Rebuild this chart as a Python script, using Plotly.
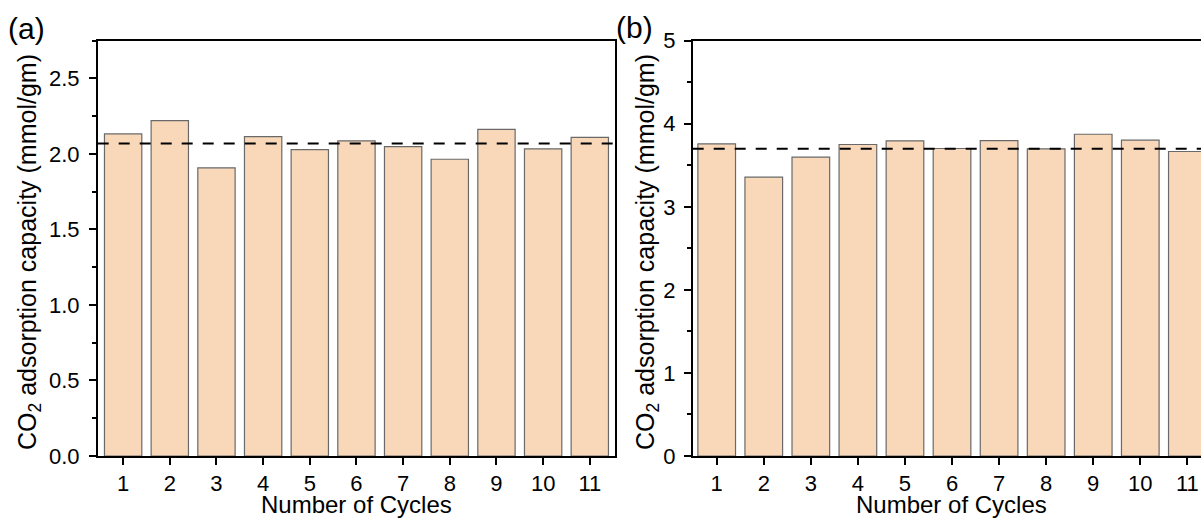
import plotly.graph_objects as go

# ---- data ----
cycles = [1, 2, 3, 4, 5, 6, 7, 8, 9, 10, 11]
cycle_labels = ["1", "2", "3", "4", "5", "6", "7", "8", "9", "10", "11"]
capacity_a = [2.133, 2.221, 1.908, 2.115, 2.029, 2.087, 2.049, 1.965, 2.163, 2.034, 2.110]
capacity_b = [3.758, 3.357, 3.598, 3.750, 3.794, 3.702, 3.798, 3.698, 3.874, 3.802, 3.666]
average_a = 2.07
average_b = 3.70
yticks_a = [0.0, 0.5, 1.0, 1.5, 2.0, 2.5]
yticklabels_a = ["0.0", "0.5", "1.0", "1.5", "2.0", "2.5"]
yticks_b = [0, 1, 2, 3, 4, 5]
yticklabels_b = ["0", "1", "2", "3", "4", "5"]

# ---- styling ----
W, H = 1201, 519
FONT = "Liberation Sans, Arial, Helvetica, sans-serif"
BAR_FILL = "#F9D8BA"
BAR_LINE = "rgb(105,105,105)"
TICK_SIZE = 22
TITLE_SIZE = 24


def px_x(p):
    return p / W


def px_y(p):
    return 1 - p / H


fig = go.Figure()

fig.add_trace(go.Bar(
    x=cycles, y=capacity_a, width=0.8,
    marker=dict(color=BAR_FILL, line=dict(color=BAR_LINE, width=1.2)),
    xaxis="x", yaxis="y", showlegend=False,
))
fig.add_trace(go.Bar(
    x=cycles, y=capacity_b, width=0.8,
    marker=dict(color=BAR_FILL, line=dict(color=BAR_LINE, width=1.2)),
    xaxis="x2", yaxis="y2", showlegend=False,
))

y_dom = [px_y(456), px_y(40.7)]

common_axis = dict(
    showline=True, linecolor="black", linewidth=1.5,
    ticks="outside", ticklen=7, tickwidth=1.5, tickcolor="black",
    showgrid=False, zeroline=False, automargin=False,
    tickfont=dict(family=FONT, size=TICK_SIZE, color="black"),
)

fig.update_layout(
    template="none",
    width=W, height=H,
    margin=dict(l=0, r=0, t=0, b=0, pad=0),
    paper_bgcolor="white", plot_bgcolor="white",
    font=dict(family=FONT, color="black"),
    bargap=0.2,
    xaxis=dict(
        common_axis, domain=[px_x(97.7), px_x(615)], range=[0.455, 11.54],
        tickvals=cycles, ticktext=cycle_labels, mirror=True, anchor="y",
        ticklabelstandoff=0,
    ),
    yaxis=dict(
        common_axis, domain=y_dom, range=[0, 2.75],
        tickvals=yticks_a, ticktext=yticklabels_a, mirror=True, anchor="x",
        minor=dict(ticks="outside", ticklen=4, tickwidth=1.5, tickcolor="black", dtick=0.25),
        ticklabelstandoff=5,
    ),
    xaxis2=dict(
        common_axis, domain=[px_x(692.7), 1.0], range=[0.49, 11.29],
        tickvals=cycles, ticktext=cycle_labels, mirror=True, anchor="y2",
        ticklabelstandoff=0,
    ),
    yaxis2=dict(
        common_axis, domain=y_dom, range=[0, 5],
        tickvals=yticks_b, ticktext=yticklabels_b, mirror=False, anchor="x2",
        minor=dict(ticks="outside", ticklen=4, tickwidth=1.5, tickcolor="black", dtick=0.5),
        ticklabelstandoff=4,
    ),
)

# dashed average lines
fig.add_shape(type="line", xref="x domain", yref="y", x0=0, x1=1.0,
              y0=average_a, y1=average_a,
              line=dict(color="black", width=2, dash="11px,10px"))
fig.add_shape(type="line", xref="x2 domain", yref="y2", x0=0, x1=1,
              y0=average_b, y1=average_b,
              line=dict(color="black", width=2, dash="11px,10px"))

ytitle = "CO<sub>2</sub> adsorption capacity (mmol/gm)"
annots = [
    dict(text="(a)", x=px_x(26), y=px_y(29), xanchor="center", yanchor="middle",
         font=dict(size=30)),
    dict(text="(b)", x=px_x(634), y=px_y(27.5), xanchor="center", yanchor="middle",
         font=dict(size=30)),
    dict(text=ytitle, textangle=-90, x=px_x(29), y=px_y(252), xanchor="center",
         yanchor="middle", font=dict(size=25)),
    dict(text=ytitle, textangle=-90, x=px_x(647), y=px_y(252), xanchor="center",
         yanchor="middle", font=dict(size=25)),
    dict(text="Number of Cycles", x=px_x(356.5), y=0, xanchor="center", yanchor="bottom",
         borderpad=0, font=dict(size=TITLE_SIZE)),
    dict(text="Number of Cycles", x=px_x(951), y=0, xanchor="center", yanchor="bottom",
         borderpad=0, font=dict(size=TITLE_SIZE)),
]
for a in annots:
    a.update(xref="paper", yref="paper", showarrow=False)
    a["font"].update(family=FONT, color="black")
fig.update_layout(annotations=annots)

fig.write_html(
    "out.html",
    config={"displayModeBar": False},
    post_script="document.body.style.margin='0';document.body.style.overflow='hidden';",
)
